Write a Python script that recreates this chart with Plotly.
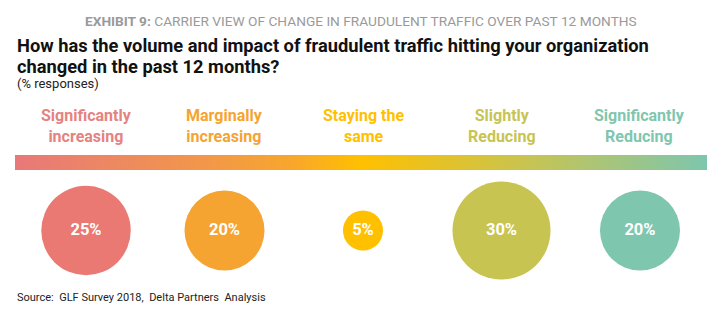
import plotly.graph_objects as go

categories = ["Significantly<br>increasing", "Marginally<br>increasing", "Staying the<br>same",
              "Slightly<br>Reducing", "Significantly<br>Reducing"]
values = [25, 20, 5, 30, 20]
value_labels = ["25%", "20%", "5%", "30%", "20%"]
colors = ["#EA7873", "#F5A432", "#FFC000", "#C8C452", "#7FC6AF"]
label_colors = ["#E5837F", "#F5A432", "#FFC000", "#C8C452", "#7FC6AF"]
gradient = [[0.0, "#E8787A"], [0.3, "#F39A45"], [0.4, "#F8A62C"], [0.5, "#FFC000"],
            [0.75, "#C5C455"], [1.0, "#7DC6AE"]]

W, H = 726, 322
FONT = "Roboto"

x_idx = list(range(len(values)))

fig = go.Figure()

# gradient bar (decoration) on a pixel-like secondary axis pair
fig.add_trace(go.Scatter(
    x=[15, 707, 707, 15, 15], y=[155, 155, 170, 170, 155],
    xaxis="x2", yaxis="y2", mode="lines", line=dict(width=0),
    fill="toself", fillgradient=dict(type="horizontal", colorscale=gradient),
    hoverinfo="skip", showlegend=False))

# bubbles
max_d = 98
sizeref = 2.0 * max(values) / (max_d ** 2)
fig.add_trace(go.Scatter(
    x=x_idx, y=[0] * len(values), mode="markers+text",
    marker=dict(size=values, sizemode="area", sizeref=sizeref,
                color=colors, line=dict(width=0), opacity=1),
    text=value_labels, textposition="middle center",
    textfont=dict(family=FONT, size=16.5, color="white", weight="bold"),
    showlegend=False, hoverinfo="skip"))

ann = []
for i, (c, lc) in enumerate(zip(categories, label_colors)):
    ann.append(dict(x=i, xref="x", y=1 - 126 / H, yref="paper", text=c,
                    showarrow=False, xanchor="center", yanchor="middle",
                    font=dict(family=FONT, size=16, color=lc, weight="bold")))

ann.append(dict(x=361 / W, y=1 - 21 / H, xref="paper", yref="paper", showarrow=False,
                xanchor="center", yanchor="middle",
                text="<b>EXHIBIT 9:</b> CARRIER VIEW OF CHANGE IN FRAUDULENT TRAFFIC OVER PAST 12 MONTHS",
                font=dict(family=FONT, size=13.7, color="#9A9A9A")))
ann.append(dict(x=15 / W, y=1 - 45.5 / H, xref="paper", yref="paper", showarrow=False,
                xanchor="left", yanchor="middle",
                text="<b>How has the volume and impact of fraudulent traffic hitting your organization</b>",
                font=dict(family=FONT, size=18.3, color="#111111")))
ann.append(dict(x=15 / W, y=1 - 66 / H, xref="paper", yref="paper", showarrow=False,
                xanchor="left", yanchor="middle",
                text="<b>changed in the past 12 months?</b>",
                font=dict(family=FONT, size=18.3, color="#111111")))
ann.append(dict(x=15 / W, y=1 - 83 / H, xref="paper", yref="paper", showarrow=False,
                xanchor="left", yanchor="middle", text="(% responses)",
                font=dict(family=FONT, size=13, color="#222222")))
ann.append(dict(x=15 / W, y=1 - 297 / H, xref="paper", yref="paper", showarrow=False,
                xanchor="left", yanchor="middle",
                text="Source:  GLF Survey 2018,  Delta Partners  Analysis",
                font=dict(family=FONT, size=11, color="#222222")))

fig.update_layout(
    width=W, height=H, margin=dict(l=0, r=0, t=0, b=0),
    paper_bgcolor="white", plot_bgcolor="rgba(0,0,0,0)",
    xaxis=dict(range=[-0.621, 4.621], visible=False, domain=[0, 1]),
    yaxis=dict(range=[-(H - 230.5) / H, 230.5 / H], visible=False, domain=[0, 1]),
    xaxis2=dict(range=[0, W], visible=False, domain=[0, 1], anchor="y2", overlaying="x"),
    yaxis2=dict(range=[H, 0], visible=False, domain=[0, 1], anchor="x2", overlaying="y"),
    annotations=ann,
)

fig.write_html("out.html")
